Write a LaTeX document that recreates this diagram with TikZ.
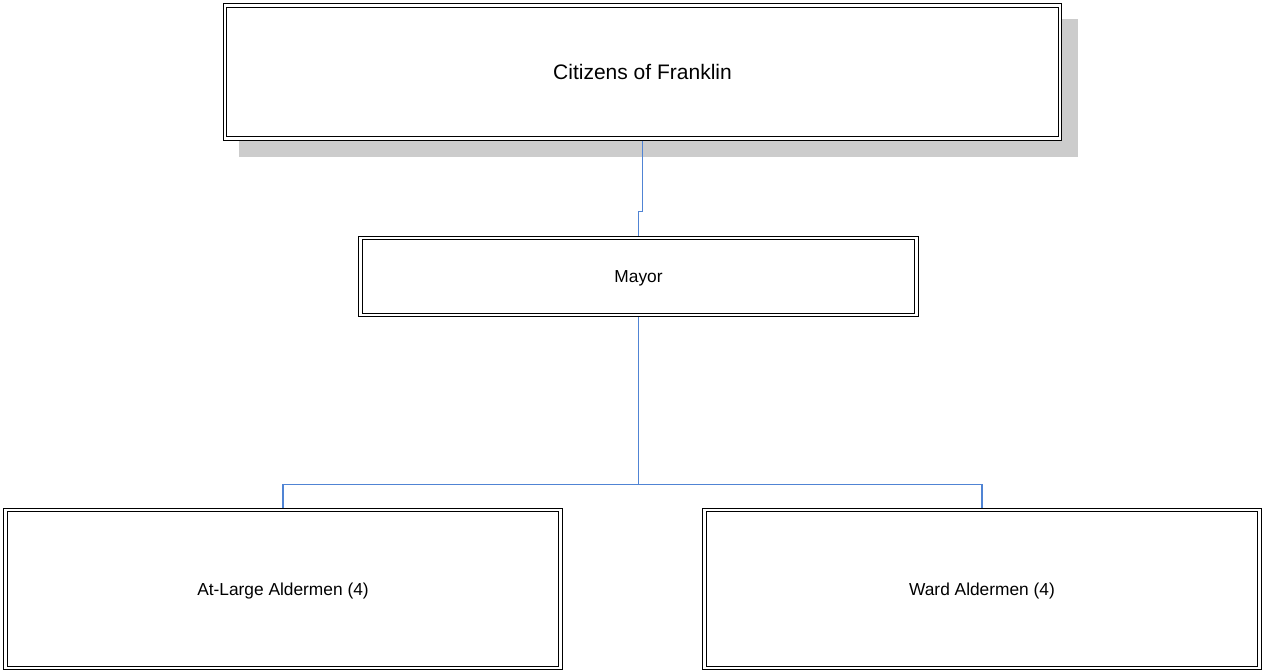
\documentclass[tikz,border=0pt]{standalone}
\usepackage{fontspec}
\setmainfont{Liberation Sans}
\usetikzlibrary{backgrounds}
\definecolor{connblue}{RGB}{80,132,212}
\definecolor{shadowgray}{RGB}{204,204,204}
\tikzset{
  orgbox/.style={draw=black, line width=0.8pt, double=white, double distance=1.6pt,
    fill=white, outer sep=1.6pt, inner sep=0pt, text depth=0pt, align=center},
  conn/.style={draw=connblue, line width=0.8pt},
}
\begin{document}
\begin{tikzpicture}[x=0.75pt, y=-0.75pt]
  \useasboundingbox (0,0) rectangle (1262,671);

  % boxes
  \node[orgbox, minimum width=626.25pt, minimum height=99.75pt, font=\fontsize{15.75}{18}\selectfont]
    (citizens) at (642.5,72) {Citizens of Franklin};
  \node[orgbox, minimum width=417pt, minimum height=57.5pt, font=\fontsize{13}{15}\selectfont]
    (mayor) at (638.5,276.6) {Mayor};
  \node[orgbox, minimum width=416.25pt, minimum height=118.5pt, font=\fontsize{13}{15}\selectfont]
    (atlarge) at (283,589) {At-Large Aldermen (4)};
  \node[orgbox, minimum width=416.25pt, minimum height=118.5pt, font=\fontsize{13}{15}\selectfont]
    (ward) at (982,589) {Ward Aldermen (4)};

  % drop shadow of the top box
  \begin{scope}[on background layer]
    \fill[shadowgray] ([shift={(16,16)}]citizens.north west) rectangle ([shift={(16,16)}]citizens.south east);
  \end{scope}

  % connectors
  \draw[conn] (citizens.south) -- ++(0,71) -| (mayor.north);
  \coordinate (bus) at (638.5,484.5);
  \draw[conn] (mayor.south) -- (bus);
  \draw[conn] (bus) -| (atlarge.north);
  \draw[conn] (bus) -| (ward.north);
\end{tikzpicture}
\end{document}
